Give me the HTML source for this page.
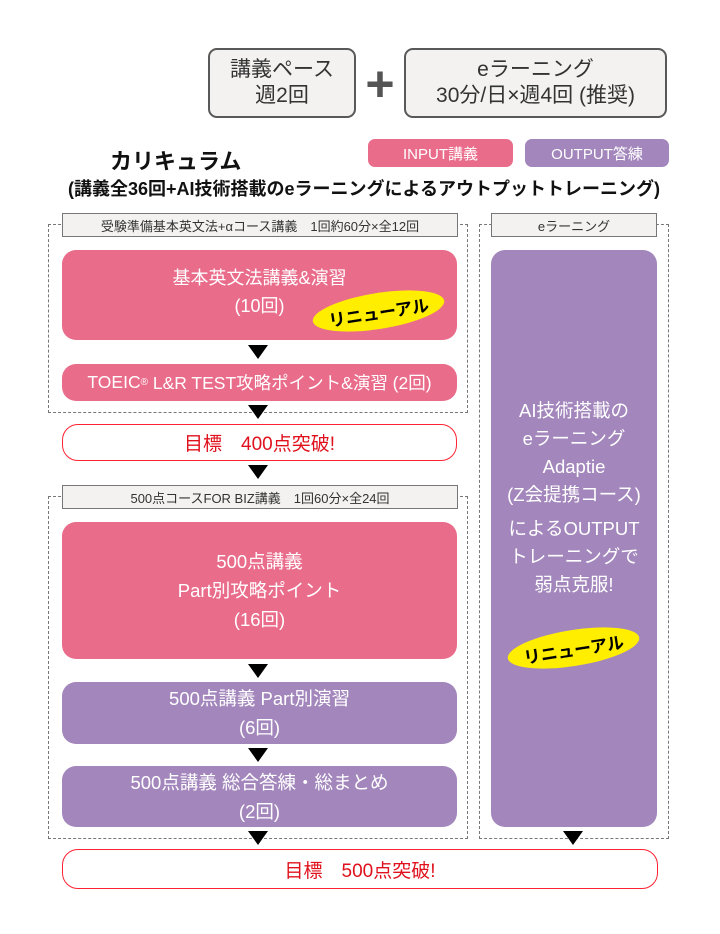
<!DOCTYPE html>
<html><head><meta charset="utf-8"><style>
body{margin:0;width:720px;height:934px;background:#fff;position:relative;font-family:"Liberation Sans","Noto Sans CJK JP",sans-serif;overflow:hidden}
.a{position:absolute;box-sizing:border-box}
.c{display:flex;align-items:center;justify-content:center;text-align:center}
.top{background:#f3f2f1;border:2px solid #595959;border-radius:9px;font-size:21px;line-height:26px;color:#333}
.dash{border:1.5px dashed #777}
.lbl{background:#f3f2f1;border:1px solid #777;font-size:13px;color:#333}
.pk{background:#e96c8b;border-radius:14px;color:#fff}
.pu{background:#a387bc;border-radius:14px;color:#fff}
.goal{background:#fff;border:1.5px solid #f23;border-radius:16px;color:#e0101c;font-size:19px}
.tri{width:0;height:0;border-left:10px solid transparent;border-right:10px solid transparent;border-top:14px solid #000}
.rib{background:#ffee00;border-radius:50%;font-weight:bold;font-size:17px;color:#000;transform:rotate(-9deg)}
</style></head><body>
<div class="a top c" style="left:208px;top:48px;width:148px;height:70px">講義ペース<br>週2回</div>
<div class="a c" style="left:360px;top:62px;width:40px;height:44px;font-size:50px;font-weight:bold;color:#555;line-height:44px">+</div>
<div class="a top c" style="left:404px;top:48px;width:263px;height:70px">eラーニング<br>30分/日×週4回 (推奨)</div>
<div class="a" style="left:110px;top:144px;font-size:22px;font-weight:bold;color:#111">カリキュラム</div>
<div class="a" style="left:68px;top:175px;font-size:18px;font-weight:bold;color:#111;white-space:nowrap">(講義全36回+AI技術搭載のeラーニングによるアウトプットトレーニング)</div>
<div class="a c pk" style="left:368px;top:139px;width:145px;height:28px;border-radius:7px;font-size:15px">INPUT講義</div>
<div class="a c pu" style="left:525px;top:139px;width:144px;height:28px;border-radius:7px;font-size:15px">OUTPUT答練</div>

<div class="a dash" style="left:48px;top:224px;width:420px;height:189px"></div>
<div class="a lbl c" style="left:62px;top:213px;width:396px;height:24px">受験準備基本英文法+αコース講義　1回約60分×全12回</div>
<div class="a dash" style="left:479px;top:224px;width:190px;height:615px"></div>
<div class="a lbl c" style="left:491px;top:213px;width:166px;height:24px">eラーニング</div>

<div class="a pk c" style="left:62px;top:250px;width:395px;height:90px;font-size:18px;line-height:28px;padding-bottom:6px">基本英文法講義&amp;演習<br>(10回)</div>
<div class="a rib c" style="left:312px;top:293px;width:133px;height:36px">リニューアル</div>
<div class="a tri" style="left:248px;top:345px"></div>
<div class="a pk c" style="left:62px;top:364px;width:395px;height:37px;font-size:17.5px">TOEIC<sup style="font-size:10px">®</sup>&nbsp;L&amp;R TEST攻略ポイント&amp;演習 (2回)</div>
<div class="a tri" style="left:248px;top:405px"></div>
<div class="a goal c" style="left:62px;top:424px;width:395px;height:37px">目標　400点突破!</div>
<div class="a tri" style="left:248px;top:465px"></div>

<div class="a dash" style="left:48px;top:496px;width:420px;height:343px"></div>
<div class="a lbl c" style="left:62px;top:485px;width:396px;height:24px">500点コースFOR BIZ講義　1回60分×全24回</div>
<div class="a pk c" style="left:62px;top:522px;width:395px;height:137px;font-size:18.5px;line-height:29px">500点講義<br>Part別攻略ポイント<br>(16回)</div>
<div class="a tri" style="left:248px;top:664px"></div>
<div class="a pu c" style="left:62px;top:682px;width:395px;height:62px;font-size:18.5px;line-height:29px">500点講義 Part別演習<br>(6回)</div>
<div class="a tri" style="left:248px;top:748px"></div>
<div class="a pu c" style="left:62px;top:766px;width:395px;height:61px;font-size:18.5px;line-height:29px">500点講義 総合答練・総まとめ<br>(2回)</div>
<div class="a tri" style="left:248px;top:831px"></div>

<div class="a pu" style="left:491px;top:250px;width:166px;height:577px"></div>
<div class="a" style="left:491px;top:397px;width:166px;text-align:center;color:#fff;font-size:18.5px;line-height:28px">AI技術搭載の<br>eラーニング<br>Adaptie<br>(Z会提携コース)<div style="height:6px"></div>によるOUTPUT<br>トレーニングで<br>弱点克服!</div>
<div class="a rib c" style="left:507px;top:630px;width:133px;height:36px">リニューアル</div>
<div class="a tri" style="left:563px;top:831px"></div>

<div class="a goal c" style="left:62px;top:849px;width:596px;height:40px">目標　500点突破!</div>
</body></html>
